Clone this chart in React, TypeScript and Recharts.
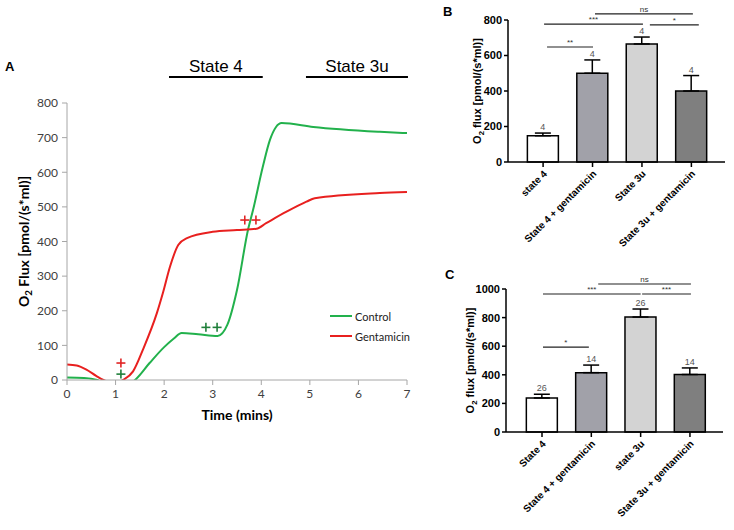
import React from "react";
import {
  ComposedChart,
  Line,
  Scatter,
  Bar,
  Cell,
  ErrorBar,
  LabelList,
  XAxis,
  YAxis,
  ReferenceLine,
} from "recharts";

const ARIAL = "'Liberation Sans', Arial, sans-serif";
const CALIBRI = "Lato, 'Open Sans', sans-serif";

// ---- Panel A: O2 flux traces over time ----
const controlTime = [0, 0.35, 0.62, 0.9, 1.15, 1.4, 1.7, 2.0, 2.2, 2.36, 2.7, 3.1, 3.3, 3.5, 3.73, 3.83, 4.03, 4.18, 4.3, 4.42, 5.07, 6.44, 7];
const controlFlux = [7, 6, 0, -25, -20, 0, 49, 95, 120, 136, 132, 127, 159, 260, 436, 491, 615, 694, 730, 742, 731, 717, 713];
const gentaTime = [0, 0.2, 0.4, 0.6, 0.75, 0.95, 1.15, 1.36, 1.57, 1.85, 1.98, 2.12, 2.29, 2.47, 3.0, 3.5, 3.9, 4.1, 4.52, 4.93, 5.1, 6.44, 7];
const gentaFlux = [45, 42, 30, 12, 0, -8, 0, 25, 90, 193, 254, 327, 390, 410, 428, 433, 437, 453, 486, 515, 525, 540, 543];

// "+" injection markers
const controlMarkTime = [1.11, 2.86, 3.09];
const controlMarkFlux = [17, 152, 152];
const gentaMarkTime = [1.11, 3.66, 3.89];
const gentaMarkFlux = [49, 462, 462];

const timeTicks = [0, 1, 2, 3, 4, 5, 6, 7];
const fluxTicksA = [0, 100, 200, 300, 400, 500, 600, 700, 800];

const stateNames = ["State 4", "State 3u"];
const stateStart = [2.1, 4.92];
const stateEnd = [4.03, 7.02];
const stateLevel = 875;

// ---- Panel B ----
const catsB = ["state 4", "State 4 + gentamicin", "State 3u", "State 3u + gentamicin"];
const meanB = [148, 500, 665, 400];
const semB = [15, 75, 39, 87];
const nB = [4, 4, 4, 4];
const sigB = ["**", "***", "*", "ns"];
const sigFromB = [0.08, 0.02, 2.16, 1.05];
const sigToB = [1.01, 2.02, 3.15, 3.03];
const sigLevelB = [648, 777, 772, 834];

// ---- Panel C ----
const catsC = ["State 4", "State 4 + gentamicin", "state 3u", "State 3u + gentamicin"];
const meanC = [238, 415, 804, 402];
const semC = [26, 53, 56, 46];
const nC = [26, 14, 26, 14];
const sigC = ["*", "***", "***", "ns"];
const sigFromC = [0.02, 0.02, 2.03, 1.14];
const sigToC = [0.95, 2.0, 3.02, 3.02];
const sigLevelC = [594, 965, 965, 1035];

const barFills = ["#ffffff", "#a1a1a9", "#d3d3d3", "#7f7f7f"];

const GREEN = "#22b14c";
const RED = "#e8201f";

const plusShape = (color: string) => (props: any) => {
  const { cx, cy } = props;
  return (
    <g stroke={color} strokeWidth={1.6}>
      <line x1={cx - 4.5} x2={cx + 4.5} y1={cy} y2={cy} />
      <line x1={cx} x2={cx} y1={cy - 4.5} y2={cy + 4.5} />
    </g>
  );
};

const AxisTitle = (props: any) => {
  const { viewBox, dx, rest, fontSize, fontFamily } = props;
  const cx = viewBox.x + dx;
  const cy = viewBox.y + viewBox.height / 2;
  return (
    <text
      x={cx}
      y={cy}
      transform={`rotate(-90 ${cx} ${cy})`}
      textAnchor="middle"
      fontSize={fontSize}
      fontWeight="bold"
      fontFamily={fontFamily}
      fill="#000"
    >
      <tspan>O</tspan>
      <tspan fontSize={fontSize * 0.7} dy={3}>2</tspan>
      <tspan dy={-3}>{rest}</tspan>
    </text>
  );
};

const CatTick = (props: any) => {
  const { x, y, payload, cats } = props;
  const px = x + 2;
  const py = y + 3;
  return (
    <text
      x={px}
      y={py}
      dy="0.35em"
      textAnchor="end"
      transform={`rotate(-45 ${px} ${py})`}
      fontSize={10}
      fontWeight="bold"
      fontFamily={ARIAL}
      fill="#000"
    >
      {cats[payload.value]}
    </text>
  );
};

// n above the error bar; pixel/unit taken from the bar itself
const NLabel = (props: any) => {
  const { x, y, width, height, index, rows } = props;
  const r = rows[index];
  if (!r) return null;
  const ppu = height / r.mean;
  const top = y - r.sem * ppu;
  return (
    <text x={x + width / 2} y={top - 3} textAnchor="middle" fontSize={9} fontFamily={ARIAL} fill="#555">
      {r.n}
    </text>
  );
};

function OxygenTrace() {
  const control = controlTime.map((t, i) => ({ t, v: controlFlux[i] }));
  const genta = gentaTime.map((t, i) => ({ t, v: gentaFlux[i] }));
  const controlMarks = controlMarkTime.map((t, i) => ({ t, v: controlMarkFlux[i] }));
  const gentaMarks = gentaMarkTime.map((t, i) => ({ t, v: gentaMarkFlux[i] }));
  const axisGray = "#a6a6a6";

  return (
    <ComposedChart width={420} height={430} margin={{ top: 103, right: 13, bottom: 10, left: 0 }}>
      <XAxis
        dataKey="t"
        type="number"
        domain={[0, 7]}
        ticks={timeTicks}
        allowDataOverflow
        height={40}
        tickSize={5}
        tickMargin={4}
        axisLine={{ stroke: axisGray }}
        tickLine={{ stroke: axisGray }}
        tick={{ fontSize: 12, fill: "#404040", fontFamily: CALIBRI }}
        label={{
          value: "Time (mins)",
          position: "insideBottom",
          offset: 0,
          fontSize: 14,
          fontWeight: "bold",
          fill: "#000",
          fontFamily: CALIBRI,
        }}
      />
      <YAxis
        dataKey="v"
        type="number"
        domain={[0, 800]}
        ticks={fluxTicksA}
        allowDataOverflow
        width={67}
        tickSize={5}
        tickMargin={4}
        axisLine={{ stroke: axisGray }}
        tickLine={{ stroke: axisGray }}
        tick={{ fontSize: 12, fill: "#404040", fontFamily: CALIBRI }}
        label={<AxisTitle dx={29} rest=" Flux [pmol/(s*ml)]" fontSize={14} fontFamily={CALIBRI} />}
      />
      {stateNames.map((name, i) => (
        <ReferenceLine
          key={name}
          segment={[
            { x: stateStart[i], y: stateLevel },
            { x: stateEnd[i], y: stateLevel },
          ]}
          stroke="#000"
          strokeWidth={2}
          ifOverflow="visible"
          label={{ value: name, position: "top", offset: 5, fontSize: 17, fill: "#000", fontFamily: ARIAL }}
        />
      ))}
      <Line data={control} dataKey="v" type="monotone" stroke={GREEN} strokeWidth={2} dot={false} isAnimationActive={false} />
      <Line data={genta} dataKey="v" type="monotone" stroke={RED} strokeWidth={2} dot={false} isAnimationActive={false} />
      <Scatter data={controlMarks} dataKey="v" shape={plusShape("#1f7f3a")} isAnimationActive={false} />
      <Scatter data={gentaMarks} dataKey="v" shape={plusShape("#e02424")} isAnimationActive={false} />
    </ComposedChart>
  );
}

interface BarPanelProps {
  cats: string[];
  mean: number[];
  sem: number[];
  n: number[];
  sig: string[];
  sigFrom: number[];
  sigTo: number[];
  sigLevel: number[];
  yMax: number;
  yTicks: number[];
  xDomain: [number, number];
  height: number;
  margin: { top: number; right: number; bottom: number; left: number };
  yWidth: number;
  titleDx: number;
}

function BarPanel(p: BarPanelProps) {
  const rows = p.cats.map((c, i) => ({ i, mean: p.mean[i], sem: p.sem[i], n: p.n[i], err: [0, p.sem[i]] }));
  return (
    <ComposedChart width={334} height={p.height} data={rows} margin={p.margin}>
      <XAxis
        dataKey="i"
        type="number"
        domain={p.xDomain}
        allowDataOverflow
        ticks={[0, 1, 2, 3]}
        interval={0}
        height={90}
        tickSize={5}
        tickMargin={2}
        axisLine={{ stroke: "#000", strokeWidth: 1.5 }}
        tickLine={{ stroke: "#000", strokeWidth: 1.5 }}
        tick={<CatTick cats={p.cats} />}
      />
      <YAxis
        type="number"
        domain={[0, p.yMax]}
        ticks={p.yTicks}
        width={p.yWidth}
        tickSize={4}
        tickMargin={2}
        axisLine={{ stroke: "#000", strokeWidth: 1.5 }}
        tickLine={{ stroke: "#000", strokeWidth: 1.5 }}
        tick={{ fontSize: 11, fontWeight: "bold", fill: "#000", fontFamily: ARIAL }}
        label={<AxisTitle dx={p.titleDx} rest=" flux [pmol/(s*ml)]" fontSize={11} fontFamily={ARIAL} />}
      />
      <Bar dataKey="mean" barSize={31} stroke="#000" strokeWidth={1.5} isAnimationActive={false}>
        {rows.map((r) => (
          <Cell key={r.i} fill={barFills[r.i]} />
        ))}
        <ErrorBar dataKey="err" direction="y" width={8} stroke="#000" strokeWidth={1.5} isAnimationActive={false} />
        <LabelList content={<NLabel rows={rows} />} />
      </Bar>
      {p.sig.map((s, i) => (
        <ReferenceLine
          key={i}
          segment={[
            { x: p.sigFrom[i], y: p.sigLevel[i] },
            { x: p.sigTo[i], y: p.sigLevel[i] },
          ]}
          stroke="#222"
          strokeWidth={1.2}
          ifOverflow="visible"
          label={{ value: s, position: "top", offset: 2, fontSize: 8, fill: "#333", fontFamily: ARIAL }}
        />
      ))}
    </ComposedChart>
  );
}

const panelLetter: React.CSSProperties = {
  position: "absolute",
  fontFamily: ARIAL,
  fontWeight: "bold",
  fontSize: 13,
  lineHeight: "13px",
};

export default function App() {
  return (
    <div style={{ position: "absolute", left: 0, top: 0, width: 734, height: 530, background: "#fff", overflow: "hidden" }}>
      <div style={{ position: "absolute", left: 0, top: 0 }}>
        <OxygenTrace />
      </div>
      <div style={{ position: "absolute", left: 330, top: 306, fontFamily: CALIBRI, fontSize: 11, color: "#222" }}>
        {[
          { name: "Control", color: GREEN },
          { name: "Gentamicin", color: RED },
        ].map((s) => (
          <div key={s.name} style={{ display: "flex", alignItems: "center", height: 20 }}>
            <svg width={25} height={4}>
              <line x1={0} x2={22} y1={2} y2={2} stroke={s.color} strokeWidth={2} />
            </svg>
            <span>{s.name}</span>
          </div>
        ))}
      </div>
      <div style={{ position: "absolute", left: 400, top: 0 }}>
        <BarPanel
          cats={catsB}
          mean={meanB}
          sem={semB}
          n={nB}
          sig={sigB}
          sigFrom={sigFromB}
          sigTo={sigToB}
          sigLevel={sigLevelB}
          yMax={800}
          yTicks={[0, 200, 400, 600, 800]}
          xDomain={[-0.71, 3.68]}
          height={260}
          margin={{ top: 20, right: 9, bottom: 8, left: 0 }}
          yWidth={108}
          titleDx={81}
        />
      </div>
      <div style={{ position: "absolute", left: 400, top: 260 }}>
        <BarPanel
          cats={catsC}
          mean={meanC}
          sem={semC}
          n={nC}
          sig={sigC}
          sigFrom={sigFromC}
          sigTo={sigToC}
          sigLevel={sigLevelC}
          yMax={1000}
          yTicks={[0, 200, 400, 600, 800, 1000]}
          xDomain={[-0.73, 3.67]}
          height={270}
          margin={{ top: 29, right: 11, bottom: 8, left: 0 }}
          yWidth={106}
          titleDx={74}
        />
      </div>
      <div style={{ ...panelLetter, left: 5, top: 60 }}>A</div>
      <div style={{ ...panelLetter, left: 443, top: 5 }}>B</div>
      <div style={{ ...panelLetter, left: 445, top: 268 }}>C</div>
    </div>
  );
}
